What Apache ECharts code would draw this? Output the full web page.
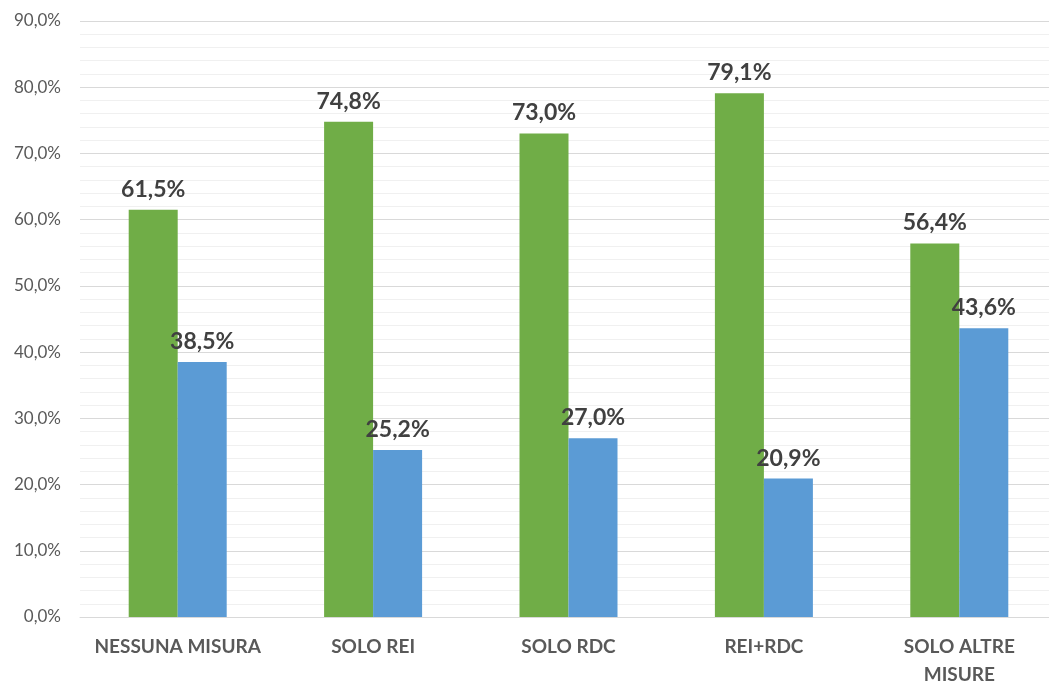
<!DOCTYPE html>
<html>
<head>
<meta charset="utf-8">
<script src="https://cdn.jsdelivr.net/npm/echarts@6/dist/echarts.min.js"></script>
<style>
  html, body { margin: 0; padding: 0; background: #fff; }
  #chart { width: 1049px; height: 684px; }
</style>
</head>
<body>
<div id="chart"></div>
<script>
const categories = ['NESSUNA MISURA', 'SOLO REI', 'SOLO RDC', 'REI+RDC', 'SOLO ALTRE\nMISURE']
const greenValues = [61.5, 74.8, 73.0, 79.1, 56.4]
const blueValues = [38.5, 25.2, 27.0, 20.9, 43.6]

const fontFamily = 'Lato, "Open Sans", sans-serif'
const fmt = (v) => v.toFixed(1).replace('.', ',') + '%'

const labelStyle = {
  show: true,
  position: 'top',
  distance: 9,
  formatter: (p) => fmt(p.value),
  fontFamily,
  fontSize: 23,
  fontWeight: 'bold',
  color: '#404040',
}

const chart = echarts.init(document.getElementById('chart'))
chart.setOption({
  animation: false,
  grid: {
    left: 80,
    right: -8,
    top: 21,
    bottom: 67,
    outerBoundsMode: 'none',
  },
  xAxis: {
    type: 'category',
    data: categories,
    axisTick: { show: false },
    axisLine: { lineStyle: { color: '#d9d9d9', width: 1 } },
    axisLabel: {
      interval: 0,
      margin: 16,
      fontFamily,
      fontSize: 19,
      fontWeight: 'bold',
      color: '#595959',
      lineHeight: 28,
    },
  },
  yAxis: {
    type: 'value',
    min: 0,
    max: 90,
    interval: 10,
    axisLine: { show: false },
    axisTick: { show: false },
    axisLabel: {
      formatter: (v) => fmt(v),
      fontFamily,
      fontSize: 17,
      color: '#595959',
      margin: 19,
    },
    splitLine: { lineStyle: { color: '#d9d9d9', width: 1 } },
    minorTick: { show: false, splitNumber: 5 },
    minorSplitLine: { show: true, lineStyle: { color: '#f0f0f0', width: 1 } },
  },
  series: [
    {
      name: 'verde',
      type: 'bar',
      data: greenValues,
      barWidth: 49,
      barGap: '0%',
      itemStyle: { color: '#70ad47' },
      label: labelStyle,
    },
    {
      name: 'blu',
      type: 'bar',
      data: blueValues,
      barWidth: 49,
      itemStyle: { color: '#5b9bd5' },
      label: labelStyle,
    },
  ],
})
</script>
</body>
</html>
